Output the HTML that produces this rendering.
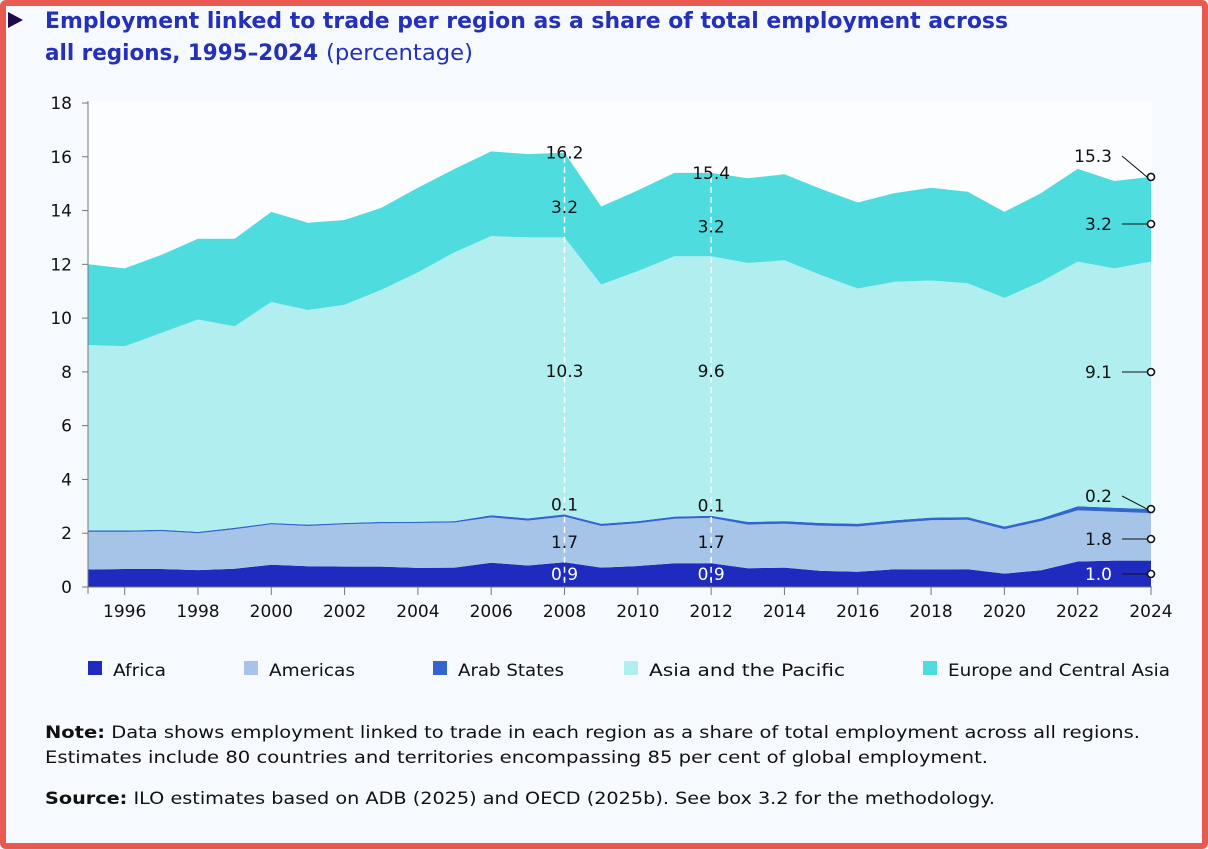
<!DOCTYPE html>
<html><head><meta charset="utf-8"><style>
html,body{margin:0;padding:0;}
body{width:1208px;height:849px;overflow:hidden;background:#f6f9fd;font-family:"DejaVu Sans",sans-serif;}
.frame{position:absolute;left:0;top:0;width:1196px;height:837px;border:6px solid #e8594f;border-radius:6px;background:#f6f9fd;}
</style></head><body>
<div class="frame"></div>
<svg id="chart" width="1208" height="849" style="position:absolute;left:0;top:0" font-family="DejaVu Sans, sans-serif">
  <polygon points="8,12 23,20 8,28" fill="#1e0a4f"/>
  <text x="45" y="28" font-size="22" font-weight="bold" fill="#2430b8" textLength="963" lengthAdjust="spacingAndGlyphs">Employment linked to trade per region as a share of total employment across</text>
  <text x="45" y="60" font-size="22" font-weight="bold" fill="#2430b8" textLength="273" lengthAdjust="spacingAndGlyphs">all regions, 1995–2024</text>
  <text x="326" y="60" font-size="22" fill="#2430b8" textLength="147" lengthAdjust="spacingAndGlyphs">(percentage)</text>
  <rect x="88" y="101" width="1064" height="486" fill="#fbfdff"/>
  <g id="areas"></g>
  <g id="axes"></g>
  <g id="annot"></g>
  <g id="legend"></g>
  <text x="45" y="738" font-size="17" fill="#111" textLength="1095" lengthAdjust="spacingAndGlyphs"><tspan font-weight="bold">Note:</tspan> Data shows employment linked to trade in each region as a share of total employment across all regions.</text>
  <text x="45" y="763" font-size="17" fill="#111" textLength="943" lengthAdjust="spacingAndGlyphs">Estimates include 80 countries and territories encompassing 85 per cent of global employment.</text>
  <text x="45" y="804" font-size="17" fill="#111" textLength="950" lengthAdjust="spacingAndGlyphs"><tspan font-weight="bold">Source:</tspan> ILO estimates based on ADB (2025) and OECD (2025b). See box 3.2 for the methodology.</text>
</svg>
<script>
const years=[1995,1996,1997,1998,1999,2000,2001,2002,2003,2004,2005,2006,2007,2008,2009,2010,2011,2012,2013,2014,2015,2016,2017,2018,2019,2020,2021,2022,2023,2024];
const africa=[0.65,0.67,0.67,0.63,0.68,0.83,0.77,0.76,0.76,0.71,0.72,0.9,0.8,0.92,0.72,0.78,0.88,0.88,0.7,0.72,0.6,0.57,0.66,0.65,0.66,0.5,0.62,0.95,0.98,0.98];
const americas=[1.40,1.38,1.41,1.37,1.47,1.50,1.50,1.57,1.61,1.67,1.68,1.69,1.67,1.70,1.55,1.59,1.66,1.69,1.62,1.63,1.68,1.68,1.72,1.83,1.84,1.65,1.83,1.90,1.82,1.77];
const arab=[0.05,0.05,0.05,0.05,0.05,0.05,0.05,0.05,0.05,0.05,0.05,0.08,0.08,0.08,0.08,0.08,0.08,0.08,0.1,0.1,0.1,0.1,0.1,0.1,0.1,0.1,0.1,0.15,0.15,0.15];
const asia=[6.9,6.85,7.32,7.9,7.5,8.22,7.98,8.12,8.63,9.27,10.0,10.38,10.45,10.3,8.9,9.3,9.68,9.65,9.63,9.7,9.22,8.75,8.87,8.82,8.7,8.5,8.8,9.1,8.9,9.2];
const europe=[3.0,2.9,2.9,3.0,3.25,3.35,3.25,3.15,3.05,3.15,3.1,3.15,3.1,3.15,2.9,3.0,3.1,3.1,3.15,3.2,3.2,3.2,3.3,3.45,3.4,3.2,3.3,3.45,3.25,3.15];
const seriesNames=["Africa","Americas","Arab States","Asia and the Pacific","Europe and Central Asia"];
const yTicks=[0,2,4,6,8,10,12,14,16,18];
const xTicks=[1996,1998,2000,2002,2004,2006,2008,2010,2012,2014,2016,2018,2020,2022,2024];
const labelYears=[2008,2012];
const labels2008=["16.2","3.2","10.3","0.1","1.7","0.9"];
const labels2012=["15.4","3.2","9.6","0.1","1.7","0.9"];
const labels2024=["15.3","3.2","9.1","0.2","1.8","1.0"];

const NS="http://www.w3.org/2000/svg";
const colors=["#1f2bbf","#a6c4e7","#3366cc","#b0eef0","#4fdcdf"];
const x=v=>88+(v-1995)*(1151-88)/29;
const y=v=>587-v*(587-103)/18;
function mk(tag,attrs,parent,text){const e=document.createElementNS(NS,tag);for(const k in attrs)e.setAttribute(k,attrs[k]);if(text!==undefined)e.textContent=text;parent.appendChild(e);return e;}
const all=[africa,americas,arab,asia,europe];
const cum=[];let base=years.map(()=>0);
all.forEach(s=>{const top=s.map((v,i)=>base[i]+v);cum.push({lo:base,hi:top});base=top;});
const areas=document.getElementById('areas');
cum.forEach((c,k)=>{
  let d=years.map((yr,i)=>(i?'L':'M')+x(yr).toFixed(1)+','+y(c.hi[i]).toFixed(1)).join('');
  for(let i=years.length-1;i>=0;i--)d+='L'+x(years[i]).toFixed(1)+','+y(c.lo[i]).toFixed(1);
  const p=mk('path',{d:d+'Z',fill:colors[k]},areas);
  
  
});
const ax=document.getElementById('axes');
const yl=mk('line',{x1:88,x2:88,y1:101,y2:594,stroke:'#777','stroke-width':1},ax);

const xl=mk('line',{x1:88,x2:1152,y1:587,y2:587,stroke:'#777','stroke-width':1},ax);

yTicks.forEach(t=>{
  mk('line',{x1:82,x2:88,y1:y(t),y2:y(t),stroke:'#777'},ax);
  const tx=mk('text',{x:72,y:y(t)+6,'font-size':17,'text-anchor':'end',fill:'#111'},ax,String(t));
  
});
xTicks.forEach(t=>{
  mk('line',{x1:x(t),x2:x(t),y1:587,y2:595,stroke:'#777'},ax);
  const tx=mk('text',{x:x(t),y:617,'font-size':17,'text-anchor':'middle',fill:'#111'},ax,String(t));
  
});
const an=document.getElementById('annot');
labelYears.forEach((yr,j)=>{
  const i=years.indexOf(yr),xx=x(yr);
  const L=j===0?labels2008:labels2012;
  const dl=mk('line',{x1:xx,x2:xx,y1:y(cum[4].hi[i])+4,y2:587,stroke:'#fff','stroke-width':1.5,'stroke-dasharray':'6,4'},an);
  
  const mid=(cum[3].hi[i]+cum[4].hi[i])/2;
  const ys=[y(cum[4].hi[i])+6,y(mid)+18,377,y(cum[2].hi[i])-4,548,580];
  L.forEach((v,k)=>{const t=mk('text',{x:xx,y:ys[k],'font-size':17,'text-anchor':'middle',fill:k===5?'#fff':'#111'},an,v);
    });
});
(function(){
  const i=years.length-1,xe=x(2024);
  const labY=[156,224,372,496,539,574];
  const ptY=[y(cum[4].hi[i]),224,372,y(cum[2].hi[i]),539,574];
  labels2024.forEach((v,k)=>{
    mk('line',{x1:1122,y1:labY[k],x2:xe-4,y2:ptY[k],stroke:'#111','stroke-width':1},an);
    const c=mk('circle',{cx:xe,cy:ptY[k],r:3.5,fill:'#fff',stroke:'#111','stroke-width':1.6},an);
    
    const t=mk('text',{x:1112,y:labY[k]+6,'font-size':17,'text-anchor':'end',fill:k===5?'#fff':'#111'},an,v);
    
  });
})();
const lg=document.getElementById('legend');
const lx=[88,244,433,624,923];
const lw=[53,86,106,196,222];
seriesNames.forEach((n,k)=>{
  const g=mk('g',{},lg);
  
  mk('rect',{x:lx[k],y:661,width:14,height:14,fill:colors[k]},g);
  mk('text',{x:lx[k]+25,y:676,'font-size':17,fill:'#111',textLength:lw[k],lengthAdjust:'spacingAndGlyphs'},g,n);
});
</script>
</body></html>
